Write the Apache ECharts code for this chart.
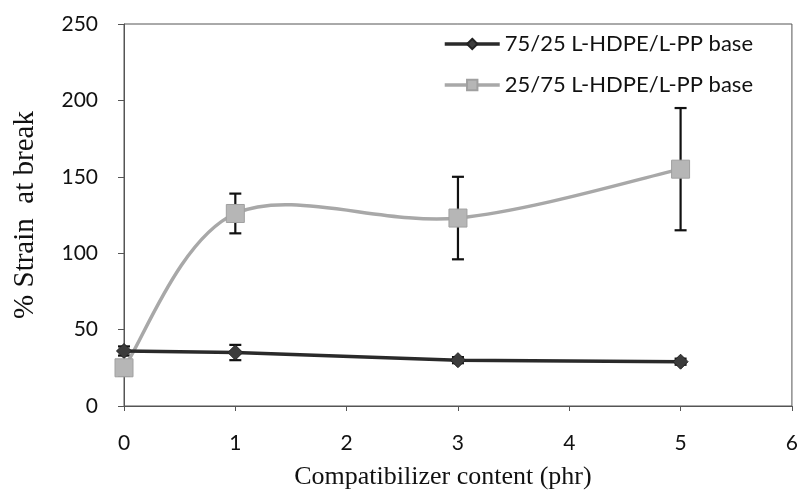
<!DOCTYPE html>
<html><head><meta charset="utf-8">
<script src="https://cdn.jsdelivr.net/npm/echarts@6/dist/echarts.min.js"></script>
<style>html,body{margin:0;padding:0;background:#fff}#c{width:801px;height:495px}</style>
</head><body><div id="c"></div>
<script>
const xValues = [0, 1, 3, 5];
const s1Name = '75/25 L-HDPE/L-PP base';
const s2Name = '25/75 L-HDPE/L-PP base';
const s1Values = [36, 35, 30, 29];
const s1Err = [3, 5, 2, 2];
const s2Values = [25, 126, 123, 155];
const s2Err = [5, 13, 27, 40];
const xTitle = 'Compatibilizer content (phr)';
const yTitle = '% Strain  at break';

const chart = echarts.init(document.getElementById('c'));
const pair = (xs, ys) => xs.map((x, i) => [x, ys[i]]);
const errData = (xs, ys, es) => xs.map((x, i) => [x, ys[i] - es[i], ys[i] + es[i]]);
function errRender(params, api) {
  const x = api.value(0);
  const lo = api.coord([x, api.value(1)]);
  const hi = api.coord([x, api.value(2)]);
  const w = 6;
  const st = {stroke: '#111', lineWidth: 2.2};
  return {type: 'group', children: [
    {type: 'line', shape: {x1: lo[0], y1: lo[1], x2: hi[0], y2: hi[1]}, style: st},
    {type: 'line', shape: {x1: lo[0]-w, y1: lo[1], x2: lo[0]+w, y2: lo[1]}, style: st},
    {type: 'line', shape: {x1: hi[0]-w, y1: hi[1], x2: hi[0]+w, y2: hi[1]}, style: st}
  ]};
}
// Spreadsheet-style smoothed line (Catmull-Rom Bezier through the data points)
function curveRender(params, api) {
  if (params.dataIndexInside !== 0) return null;
  const n = params.dataInsideLength;
  const p = [];
  for (let i = 0; i < n; i++) p.push(api.coord([api.value(0, i), api.value(1, i)]));
  let d = 'M' + p[0][0] + ' ' + p[0][1];
  for (let i = 0; i < n - 1; i++) {
    const a = p[Math.max(i - 1, 0)], b = p[i], c = p[i + 1], e = p[Math.min(i + 2, n - 1)];
    const c1 = [b[0] + (c[0] - a[0]) / 6, b[1] + (c[1] - a[1]) / 6];
    const c2 = [c[0] - (e[0] - b[0]) / 6, c[1] - (e[1] - b[1]) / 6];
    d += ' C' + c1[0] + ' ' + c1[1] + ' ' + c2[0] + ' ' + c2[1] + ' ' + c[0] + ' ' + c[1];
  }
  return {type: 'path', shape: {pathData: d}, style: {stroke: '#a8a8a8', lineWidth: 3.5, fill: null}};
}
const sans = 'Lato, "Open Sans", sans-serif';
const serif = '"Liberation Serif", "DejaVu Serif", serif';
chart.setOption({
  animation: false,
  grid: {left: 124, right: 5, top: 24, bottom: 88, show: true, borderColor: '#555', borderWidth: 1},
  legend: {
    right: 43, top: 28, orient: 'vertical', itemGap: 19, itemWidth: 55, itemHeight: 13,
    textStyle: {fontFamily: sans, fontSize: 22, color: '#111'},
    data: [
      {name: s1Name, lineStyle: {color: '#2a2a2a', width: 3.5, opacity: 1}},
      {name: s2Name, lineStyle: {color: '#a8a8a8', width: 3.5, opacity: 1}}
    ]
  },
  xAxis: {
    type: 'value', min: 0, max: 6, interval: 1,
    name: xTitle, nameLocation: 'middle', nameGap: 58,
    nameTextStyle: {fontFamily: serif, fontSize: 26, color: '#111', padding: [0, 30, 0, 0]},
    axisLine: {lineStyle: {color: '#555'}},
    axisTick: {show: true, length: 5, lineStyle: {color: '#555'}},
    axisLabel: {fontFamily: sans, fontSize: 21, color: '#111', margin: 27},
    splitLine: {show: false}
  },
  yAxis: {
    type: 'value', min: 0, max: 250, interval: 50,
    name: yTitle, nameLocation: 'middle', nameGap: 84,
    nameTextStyle: {fontFamily: serif, fontSize: 29, color: '#111'},
    axisLine: {show: true, lineStyle: {color: '#555'}},
    axisTick: {show: true, length: 6, lineStyle: {color: '#555'}},
    axisLabel: {fontFamily: sans, fontSize: 21, color: '#111', margin: 26},
    splitLine: {show: false}
  },
  series: [
    {type: 'custom', renderItem: errRender, data: errData(xValues, s2Values, s2Err), z: 1, silent: true},
    {type: 'custom', renderItem: errRender, data: errData(xValues, s1Values, s1Err), z: 1, silent: true},
    {type: 'custom', renderItem: curveRender, data: pair(xValues, s2Values), z: 2, silent: true},
    {name: s1Name, type: 'line', data: pair(xValues, s1Values), symbol: 'diamond', symbolSize: 15,
     lineStyle: {color: '#2a2a2a', width: 3.5}, itemStyle: {color: '#3c3c3c', borderColor: '#222', borderWidth: 1}, z: 3},
    {name: s2Name, type: 'line', data: pair(xValues, s2Values), symbol: 'rect', symbolSize: 18,
     lineStyle: {color: '#a8a8a8', width: 3.5, opacity: 0}, itemStyle: {color: '#b6b6b6', borderColor: '#a0a0a0', borderWidth: 1}, z: 4}
  ]
});
</script></body></html>
